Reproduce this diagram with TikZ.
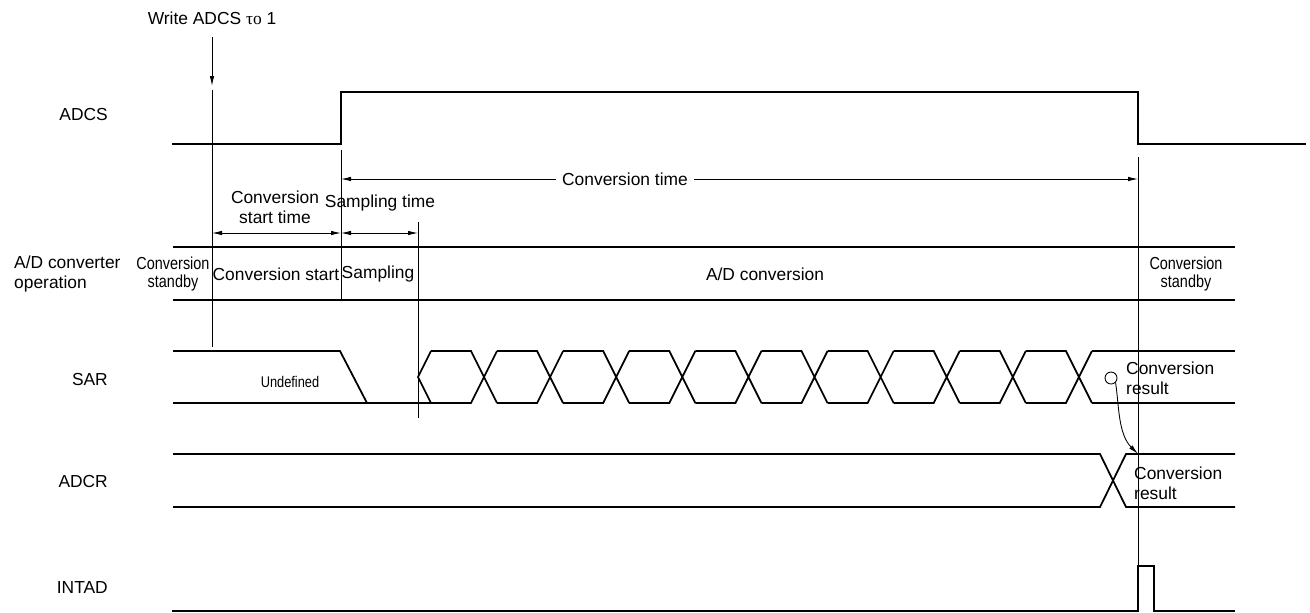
\documentclass[tikz,border=0pt]{standalone}
\usepackage{fontspec}
\setmainfont{Liberation Sans}
\newfontfamily\narrowfont[FakeStretch=0.83]{Liberation Sans}
\newfontfamily\greekfont{Liberation Serif}
\usetikzlibrary{arrows.meta, calc}

\begin{document}
\begin{tikzpicture}[
    x=0.02cm, y=-0.02cm,
    font=\fontsize{9.9}{11.6}\selectfont,
    signal style/.style={
        line width=1pt,
        line join=miter
    },
    marker style/.style={
        line width=0.5pt
    },
    arrow style/.style={
        line width=0.5pt,
        >={Latex[length=2mm,width=0.9mm]}
    },
    name style/.style={
        anchor=east
    },
    narrow style/.style={
        align=center,
        font=\narrowfont\fontsize{9.9}{10.8}\selectfont
    }
]

\useasboundingbox (0,0) rectangle (1310,612);

% Time marks
\def\tw{212}
\def\ts{341}
\def\tp{418}
\def\te{1138}

% Signal names
\node[name style] (nADCS)  at (114,115) {ADCS};
\node[anchor=west, align=left] (nADC) at (8,274) {A/D converter\\operation};
\node[name style] (nSAR)   at (114,380) {SAR};
\node[name style] (nADCR)  at (114,482) {ADCR};
\node[name style] (nINTAD) at (114,588) {INTAD};

% Write trigger
\node (write) at (\tw,18) {Write ADCS {\greekfont τo} 1};
\coordinate (wtail) at (\tw,37);
\coordinate (wtip) at (\tw,86);
\draw[arrow style, ->] (wtail) -- (wtip);

% Vertical marks
\draw[marker style] (\tw,90) -- (\tw,347);
\draw[marker style] (\ts,150) -- (\ts,300);
\draw[marker style] (\tp,222) -- (\tp,418);
\draw[marker style] (\te,157) -- (\te,566);

% ADCS
\draw[signal style] (172,144) -- (\ts,144) -- (\ts,92) -- (\te,92) -- (\te,144) -- (1306,144);

% Conversion time
\node (ctime) at (625,179) {Conversion time};
\coordinate (ctL) at (\ts,179);
\coordinate (ctR) at (\te,179);
\draw[arrow style, ->] (ctime) -- (ctL);
\draw[arrow style, ->] (ctime) -- (ctR);

% Conversion start time / sampling time
\node[align=center] (cstime) at (275,207) {Conversion\\start time};
\node (stime) at (380,203) {Sampling time};
\coordinate (csL) at (\tw,233);
\coordinate (csR) at (\ts,233);
\coordinate (spR) at (\tp,233);
\draw[arrow style, <->] (csL) -- (csR);
\draw[arrow style, <->] (csR) -- (spR);

% A/D converter operation
\draw[signal style] (173,247) -- (1235,247);
\draw[signal style] (173,300) -- (1235,300);
\node[narrow style] (opwait)  at (173,274) {Conversion\\standby};
\node (opstart) at (276,274) {Conversion start};
\node (opsamp)  at (378,274) {Sampling};
\node (opconv)  at (765,274) {A/D conversion};
\node[narrow style] (opend)   at (1186,274) {Conversion\\standby};

% SAR
\draw[signal style] (173,351) -- (340,351) -- (367,403);
\draw[signal style] (173,403) -- (431,403);
\draw[signal style] (431,351) -- (418,377) -- (431,403);
\foreach \i in {0,...,9}{
    \pgfmathsetmacro{\cx}{484+66.1*\i}
    \draw[signal style] (\cx-53.1,351) -- (\cx-13,351) -- (\cx+13,403)
                        (\cx-53.1,403) -- (\cx-13,403) -- (\cx+13,351);
}
\draw[signal style] (1092,351) -- (1235,351);
\draw[signal style] (1092,403) -- (1235,403);
\node[narrow style, font=\narrowfont\fontsize{8.8}{10}\selectfont] (undef) at (290,382) {Undefined};
\node[anchor=west, align=left] (sarres) at (1120,378) {Conversion\\result};

% Result transfer
\node[circle, draw, marker style, minimum size=2.4mm, inner sep=0pt] (resmark) at (1111,378) {};
\coordinate (adcrhit) at (\te,454);
\draw[arrow style, ->] (resmark.south east) .. controls (1119,405) and (1118,434) .. (adcrhit);

% ADCR
\draw[signal style] (173,454) -- (1100,454) -- (1126,507) -- (1235,507);
\draw[signal style] (173,507) -- (1100,507) -- (1126,454) -- (1235,454);
\node[anchor=west, align=left] (adcrres) at (1128,483) {Conversion\\result};

% INTAD
\draw[signal style] (172,611) -- (\te,611) -- (\te,566) -- (1154,566) -- (1154,611) -- (1235,611);

\end{tikzpicture}
\end{document}
